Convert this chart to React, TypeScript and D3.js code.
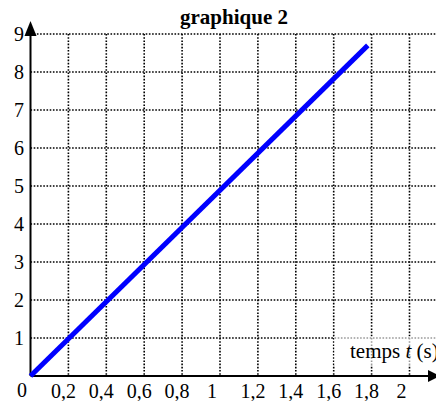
import React from 'react';
import * as d3 from 'd3';

// temps t (s) et valeur
const tValues = [0, 1.78];
const yValues = [0, 8.7];
const xTicks = [0.2, 0.4, 0.6, 0.8, 1, 1.2, 1.4, 1.6, 1.8, 2];
const yTicks = [1, 2, 3, 4, 5, 6, 7, 8, 9];
const title = 'graphique 2';

const width = 436;
const height = 401;

const App = () => {
  const x = d3.scaleLinear().domain([0, 2]).range([30.5, 409.5]);
  const y = d3.scaleLinear().domain([0, 9]).range([376, 34]);

  const line = d3.line<number>()
    .x((d, i) => x(tValues[i]))
    .y((d) => y(d));

  const fmt = (v: number) => String(v).replace('.', ',');
  const font = '"Liberation Serif", "Times New Roman", serif';

  return (
    <svg width={width} height={height} style={{ position: 'absolute', left: 0, top: 0 }} fontFamily={font}>
      <rect width={width} height={height} fill="white" />
      {/* grille pointillée */}
      <g stroke="black" strokeWidth={1.6} strokeDasharray="1.6,1.6">
        {xTicks.map((t) => (
          <line key={'gx' + t} x1={x(t)} x2={x(t)} y1={y(9)} y2={y(0)} />
        ))}
        {yTicks.map((v) => (
          <line key={'gy' + v} x1={x(0)} x2={width} y1={y(v)} y2={y(v)} />
        ))}
      </g>

      {/* fond de l'étiquette d'axe */}
      <rect x={334} y={336} width={width - 334} height={29} fill="white" opacity={0.6} />
      <text x={350} y={358} fontSize={21}>
        temps <tspan fontStyle="italic">t</tspan> (s)
      </text>

      {/* axes */}
      <line x1={x(0)} x2={x(0)} y1={y(0)} y2={30} stroke="black" strokeWidth={2} />
      <path d={`M${x(0)},21 L${x(0) - 6},36 L${x(0) + 6},36 Z`} fill="black" />
      <line x1={x(0)} x2={430} y1={y(0)} y2={y(0)} stroke="black" strokeWidth={2} />
      <path d={`M440,${y(0)} L428,${y(0) - 6} L428,${y(0) + 6} Z`} fill="black" />

      {/* courbe */}
      <path d={line(yValues) || ''} fill="none" stroke="#0000ff" strokeWidth={5} />

      {/* graduations */}
      {yTicks.map((v) => (
        <text key={'ty' + v} x={24} y={y(v) + 7} fontSize={20} textAnchor="end">{v}</text>
      ))}
      <text x={22} y={397} fontSize={20} textAnchor="middle">0</text>
      {xTicks.map((t) => (
        <text key={'tx' + t} x={x(t) - (Number.isInteger(t) ? 8 : 5)} y={398} fontSize={20} textAnchor="middle">
          {fmt(t)}
        </text>
      ))}

      <text x={234} y={24} fontSize={21} fontWeight="bold" textAnchor="middle">{title}</text>
    </svg>
  );
};

export default App;
